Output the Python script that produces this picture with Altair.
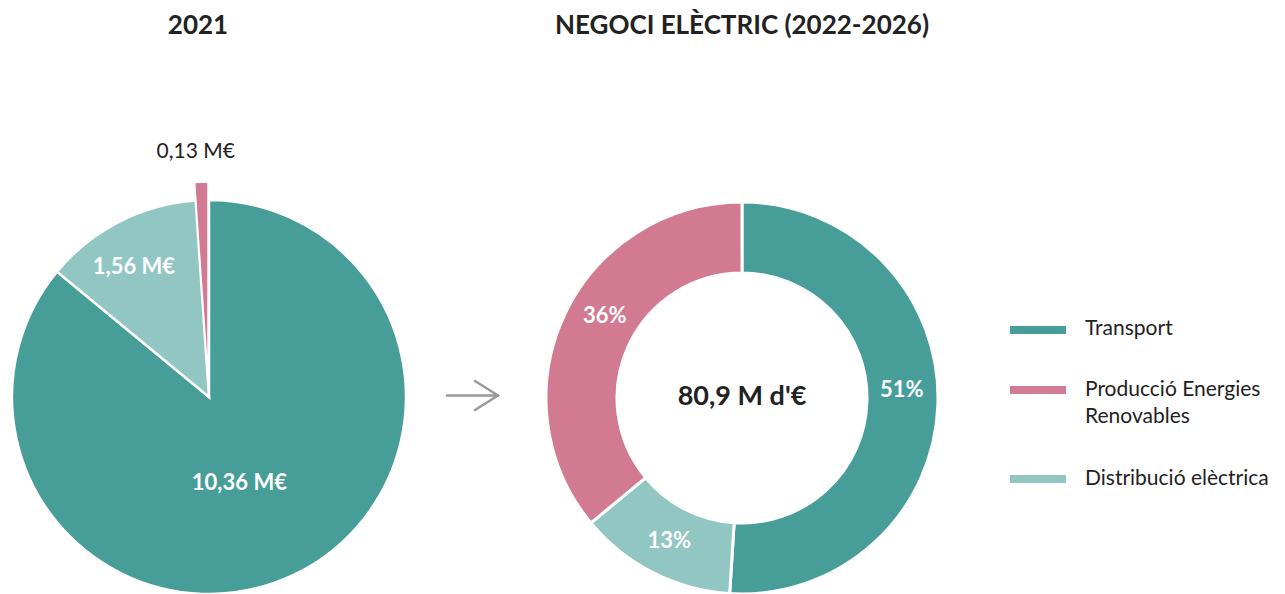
import altair as alt
import pandas as pd

# ---- data ----
categories = ["Transport", "Distribució elèctrica", "Producció Energies Renovables"]
values_2021 = [10.36, 1.56, 0.13]
labels_2021 = ["10,36 M€", "1,56 M€", "0,13 M€"]
share_2022_2026 = [51, 13, 36]
labels_2022_2026 = ["51%", "13%", "36%"]
colors = ["#479E99", "#92C6C3", "#D27A91"]
legend_order = ["Transport", "Producció Energies Renovables", "Distribució elèctrica"]
legend_labels = ["Transport", "Producció Energies\nRenovables", "Distribució elèctrica"]
title_left = "2021"
title_right = "NEGOCI ELÈCTRIC (2022-2026)"
center_text = "80,9 M d'€"

df_left = pd.DataFrame({"cat": categories, "v": values_2021, "lbl": labels_2021, "idx": list(range(3))})
df_right = pd.DataFrame({"cat": categories, "v": share_2022_2026, "lbl": labels_2022_2026, "idx": list(range(3))})
df_legend = pd.DataFrame({"cat": legend_order, "lbl": legend_labels})

FONT = "Lato"
color_scale = alt.Scale(domain=categories, range=colors)

# geometry (plot coordinates)
LCX, LCY, LR = 201, 389, 197
RCX, RCY, RR, RIN = 734, 390, 196, 125
exploded = categories[2]


def theta_enc():
    return alt.Theta("v:Q", stack=True)


layers = []

# left pie (exploded small slice drawn separately)
left_base = alt.Chart(df_left).encode(
    theta=theta_enc(), order=alt.Order("idx:Q"),
    color=alt.Color("cat:N", scale=color_scale, legend=None),
    x=alt.value(LCX), y=alt.value(LCY),
)
layers.append(left_base.mark_arc(radius=LR, stroke="white", strokeWidth=2.5).encode(
    opacity=alt.condition(f"datum.cat == '{exploded}'", alt.value(0), alt.value(1))))
layers.append(left_base.mark_arc(radius=LR, stroke="white", strokeWidth=1.5, yOffset=-18, xOffset=-1).encode(
    opacity=alt.condition(f"datum.cat == '{exploded}'", alt.value(1), alt.value(0))))

# (category, radius, angle nudge, colour, weight)
left_label_style = [
    (categories[0], 91, 0.10, "white", "bold"),
    (categories[1], 150, -0.05, "white", "bold"),
    (categories[2], 245, -0.02, "#222222", "normal"),
]
for cat, r, dt, col, wt in left_label_style:
    layers.append(alt.Chart(df_left).mark_text(
        radius=r, thetaOffset=dt, color=col, fontWeight=wt, fontSize=22 if wt == "bold" else 21, font=FONT,
        align="center", baseline="middle"
    ).encode(
        theta=theta_enc(), order=alt.Order("idx:Q"), detail="cat:N",
        x=alt.value(LCX), y=alt.value(LCY),
        text=alt.condition(f"datum.cat == '{cat}'", alt.Text("lbl:N"), alt.value("")),
    ))

# right donut
right_base = alt.Chart(df_right).encode(
    theta=theta_enc(), order=alt.Order("idx:Q"),
    x=alt.value(RCX), y=alt.value(RCY),
)
layers.append(right_base.mark_arc(radius=RR, innerRadius=RIN, stroke="white", strokeWidth=3).encode(
    color=alt.Color("cat:N", scale=color_scale, legend=None)))
right_label_style = [
    (categories[0], 160, -0.08),
    (categories[1], 160, 0.0),
    (categories[2], 160, 0.10),
]
for cat, r, dt in right_label_style:
    layers.append(right_base.mark_text(
        radius=r, thetaOffset=dt, color="white", fontWeight="bold", fontSize=22, font=FONT,
        align="center", baseline="middle"
    ).encode(detail="cat:N",
             text=alt.condition(f"datum.cat == '{cat}'", alt.Text("lbl:N"), alt.value(""))))

one = pd.DataFrame({"t": [0]})

# titles and centre text
layers.append(alt.Chart(one).mark_text(font=FONT, fontSize=26, fontWeight="bold", color="#222222",
                                       align="center", baseline="middle").encode(
    text=alt.value(title_left), x=alt.value(190), y=alt.value(18)))
layers.append(alt.Chart(one).mark_text(font=FONT, fontSize=26, fontWeight="bold", color="#222222",
                                       align="center", baseline="middle").encode(
    text=alt.value(title_right), x=alt.value(734), y=alt.value(18)))
layers.append(alt.Chart(one).mark_text(font=FONT, fontSize=27, fontWeight="bold", color="#222222",
                                       align="center", baseline="middle").encode(
    text=alt.value(center_text), x=alt.value(RCX), y=alt.value(RCY - 1)))

# arrow
arrow_style = dict(color="#999999", strokeWidth=2.5, strokeCap="round")
layers.append(alt.Chart(one).mark_rule(**arrow_style).encode(
    x=alt.value(439), x2=alt.value(490), y=alt.value(387.5), y2=alt.value(387.5)))
layers.append(alt.Chart(one).mark_rule(**arrow_style).encode(
    x=alt.value(467), x2=alt.value(490), y=alt.value(373), y2=alt.value(387.5)))
layers.append(alt.Chart(one).mark_rule(**arrow_style).encode(
    x=alt.value(467), x2=alt.value(490), y=alt.value(402), y2=alt.value(387.5)))

# legend (one entry per layer)
legend_rows_y = [322, 382, 471]
legend_text_y = [321, 382, 471]
for i, cat in enumerate(legend_order):
    sub = alt.Chart(df_legend).transform_filter(f"datum.cat == '{cat}'")
    layers.append(sub.mark_rule(strokeWidth=8).encode(
        x=alt.value(1002), x2=alt.value(1058), y=alt.value(legend_rows_y[i]),
        color=alt.Color("cat:N", scale=color_scale, legend=None)))
    layers.append(sub.mark_text(
        font=FONT, fontSize=21, color="#222222", align="left", baseline="middle",
        lineBreak="\n", lineHeight=27
    ).encode(x=alt.value(1077), y=alt.value(legend_text_y[i]), text="lbl:N"))

chart = alt.layer(*layers).resolve_scale(theta="independent").properties(
    width=1269, height=586, autosize="none", padding=0
).configure_view(stroke=None)

chart.save("out.html", embed_options={"renderer": "svg", "actions": False})
